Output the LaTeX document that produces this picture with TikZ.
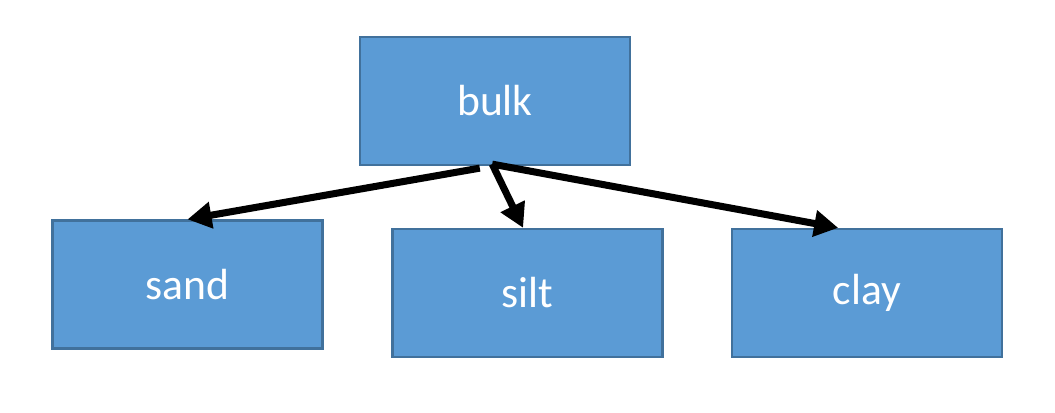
\documentclass[tikz,border=0pt]{standalone}
\usepackage{fontspec}
\setmainfont{Carlito}
\usetikzlibrary{arrows.meta}
\definecolor{boxfill}{HTML}{5B9BD5}
\definecolor{boxline}{HTML}{41719C}
\begin{document}
\begin{tikzpicture}[x=0.025cm, y=-0.025cm,
    soilbox/.style={draw=boxline, fill=boxfill, line width=1.6pt,
        minimum width=6.75cm, minimum height=3.2cm, inner sep=0pt,
        text=white, font=\fontsize{31}{37}\selectfont},
    split/.style={line width=5pt, -{Triangle[length=0.6cm, width=0.64cm]}}]
    % Canvas
    \useasboundingbox (0,0) rectangle (1055,413);

    % Boxes
    \node[soilbox] (bulk) at (495,101) {bulk};
    \node[soilbox] (sand) at (187.5,284.5) {sand};
    \node[soilbox] (silt) at (527.5,293) {silt};
    \node[soilbox] (clay) at (867,293) {clay};

    % Arrows from bulk down to the fractions
    \draw[split] ([xshift=-0.38cm, yshift=-0.05cm]bulk.south) -- (sand.north);
    \draw[split] ([xshift=-0.07cm, yshift=0.05cm]bulk.south) -- ([xshift=-0.11cm]silt.north);
    \draw[split] ([xshift=-0.07cm, yshift=0.05cm]bulk.south) -- ([xshift=-0.72cm]clay.north);
\end{tikzpicture}
\end{document}
